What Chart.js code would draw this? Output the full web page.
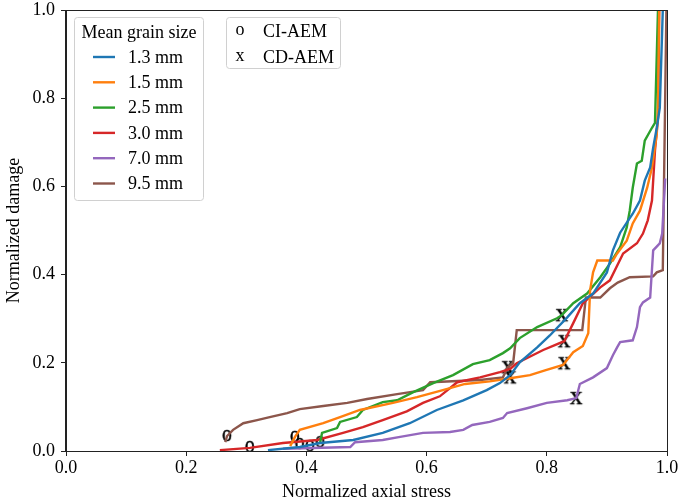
<!DOCTYPE html>
<html lang="en">
<head>
<meta charset="UTF-8">
<title>Normalized damage vs normalized axial stress</title>
<script src="https://cdn.jsdelivr.net/npm/chart.js"></script>
<style>
  html, body { margin: 0; padding: 0; background: #fff; }
  #wrap { position: relative; width: 685px; height: 503px; }
</style>
</head>
<body>
<div id="wrap"><canvas id="damageChart" width="685" height="503"></canvas></div>
<script>
const grainSizes = ['1.3 mm', '1.5 mm', '2.5 mm', '3.0 mm', '7.0 mm', '9.5 mm'];
const lineColors = ['#1f77b4', '#ff7f0e', '#2ca02c', '#d62728', '#9467bd', '#8c564b'];
const axisTicks = [0, 0.2, 0.4, 0.6, 0.8, 1.0];

// 1.3 mm
const stress13 = [0.336, 0.389, 0.423, 0.478, 0.527, 0.572, 0.617, 0.661, 0.700, 0.722, 0.739, 0.755, 0.784, 0.805, 0.834, 0.855, 0.877, 0.900, 0.910, 0.922, 0.943, 0.955, 0.963, 0.972, 0.977, 0.983, 0.988, 0.993];
const damage13 = [0.002, 0.009, 0.018, 0.025, 0.041, 0.063, 0.093, 0.115, 0.138, 0.154, 0.172, 0.201, 0.235, 0.262, 0.303, 0.335, 0.357, 0.405, 0.455, 0.495, 0.538, 0.568, 0.613, 0.643, 0.688, 0.733, 0.778, 1.0];
// 1.5 mm
const stress15 = [0.373, 0.381, 0.389, 0.428, 0.456, 0.489, 0.544, 0.584, 0.627, 0.664, 0.705, 0.739, 0.772, 0.797, 0.827, 0.844, 0.860, 0.869, 0.872, 0.877, 0.884, 0.910, 0.917, 0.933, 0.943, 0.955, 0.967, 0.975, 0.983, 0.985, 0.987];
const damage15 = [0.011, 0.032, 0.048, 0.063, 0.077, 0.093, 0.109, 0.122, 0.138, 0.152, 0.158, 0.165, 0.172, 0.183, 0.195, 0.224, 0.238, 0.267, 0.364, 0.405, 0.432, 0.432, 0.448, 0.477, 0.516, 0.545, 0.597, 0.643, 0.719, 0.778, 1.0];
// 2.5 mm
const stress25 = [0.423, 0.426, 0.451, 0.456, 0.484, 0.494, 0.527, 0.551, 0.577, 0.611, 0.644, 0.677, 0.705, 0.727, 0.739, 0.755, 0.784, 0.817, 0.825, 0.844, 0.867, 0.889, 0.905, 0.922, 0.933, 0.938, 0.943, 0.950, 0.958, 0.963, 0.975, 0.980, 0.985];
const damage25 = [0.020, 0.041, 0.052, 0.066, 0.077, 0.093, 0.111, 0.115, 0.133, 0.154, 0.172, 0.197, 0.206, 0.222, 0.233, 0.256, 0.281, 0.301, 0.308, 0.335, 0.357, 0.394, 0.425, 0.462, 0.507, 0.545, 0.597, 0.652, 0.658, 0.704, 0.733, 0.744, 1.0];
// 3.0 mm
const stress30 = [0.256, 0.306, 0.361, 0.418, 0.461, 0.494, 0.527, 0.567, 0.594, 0.622, 0.651, 0.689, 0.722, 0.739, 0.750, 0.794, 0.829, 0.844, 0.860, 0.889, 0.905, 0.927, 0.950, 0.960, 0.968, 0.975, 0.980, 0.985, 0.987];
const damage30 = [0.002, 0.007, 0.018, 0.025, 0.041, 0.054, 0.070, 0.090, 0.109, 0.124, 0.156, 0.167, 0.179, 0.186, 0.199, 0.229, 0.249, 0.290, 0.335, 0.371, 0.387, 0.448, 0.471, 0.493, 0.523, 0.568, 0.681, 0.756, 1.0];
// 7.0 mm
const stress70 = [0.361, 0.473, 0.481, 0.527, 0.556, 0.594, 0.639, 0.661, 0.676, 0.705, 0.727, 0.734, 0.767, 0.800, 0.834, 0.849, 0.855, 0.877, 0.900, 0.910, 0.917, 0.922, 0.943, 0.950, 0.955, 0.960, 0.972, 0.977, 0.988, 0.992, 0.997];
const damage70 = [0.005, 0.009, 0.020, 0.025, 0.032, 0.041, 0.043, 0.048, 0.059, 0.066, 0.075, 0.086, 0.097, 0.109, 0.115, 0.120, 0.152, 0.167, 0.188, 0.217, 0.235, 0.247, 0.251, 0.281, 0.326, 0.337, 0.348, 0.455, 0.471, 0.493, 0.618];
// 9.5 mm
const stress95 = [0.265, 0.268, 0.278, 0.295, 0.318, 0.339, 0.368, 0.389, 0.428, 0.468, 0.501, 0.551, 0.594, 0.606, 0.689, 0.727, 0.735, 0.744, 0.750, 0.859, 0.865, 0.889, 0.905, 0.918, 0.938, 0.977, 0.983, 0.993, 0.999];
const damage95 = [0.020, 0.034, 0.048, 0.063, 0.070, 0.077, 0.086, 0.095, 0.102, 0.109, 0.118, 0.129, 0.138, 0.156, 0.161, 0.167, 0.190, 0.199, 0.274, 0.274, 0.348, 0.348, 0.369, 0.382, 0.394, 0.396, 0.405, 0.410, 1.0];

// CI-AEM and CD-AEM points
const ciStress = [0.268, 0.306, 0.381, 0.389, 0.406, 0.423];
const ciDamage = [0.034, 0.009, 0.032, 0.016, 0.011, 0.020];
const cdStress = [0.825, 0.829, 0.829, 0.735, 0.739, 0.849];
const cdDamage = [0.308, 0.249, 0.199, 0.190, 0.167, 0.120];

const serif = '"Liberation Serif", "Times New Roman", serif';
const stressSeries = [stress13, stress15, stress25, stress30, stress70, stress95];
const damageSeries = [damage13, damage15, damage25, damage30, damage70, damage95];

function toPoints(xs, ys) {
  return xs.map((x, i) => ({ x: x, y: ys[i] }));
}

// glyph markers, like matplotlib text markers
function glyphMarker(ch, size, sx) {
  const c = document.createElement('canvas');
  c.width = 26; c.height = 26;
  const g = c.getContext('2d');
  g.font = size + 'px ' + serif;
  g.textAlign = 'center';
  g.textBaseline = 'alphabetic';
  g.fillStyle = '#000';
  g.strokeStyle = '#000';
  g.lineWidth = 0.5;
  g.translate(13, 13 + size * 0.23);
  g.scale(sx, 1);
  g.fillText(ch, 0, 0);
  g.strokeText(ch, 0, 0);
  return c;
}
const oMarker = glyphMarker('o', 23, 0.85);
const xMarker = glyphMarker('x', 25, 1.0);

const datasets = grainSizes.map((name, i) => ({
  label: name,
  data: toPoints(stressSeries[i], damageSeries[i]),
  borderColor: lineColors[i],
  backgroundColor: lineColors[i],
  borderWidth: 2.4,
  pointRadius: 0,
  showLine: true,
  tension: 0
}));
datasets.push({
  label: 'CI-AEM',
  data: toPoints(ciStress, ciDamage),
  pointStyle: oMarker,
  pointRadius: 9,
  showLine: false
});
datasets.push({
  label: 'CD-AEM',
  data: toPoints(cdStress, cdDamage),
  pointStyle: xMarker,
  pointRadius: 9,
  showLine: false
});

function roundBox(ctx, x, y, w, h, r) {
  ctx.beginPath();
  ctx.moveTo(x + r, y);
  ctx.arcTo(x + w, y, x + w, y + h, r);
  ctx.arcTo(x + w, y + h, x, y + h, r);
  ctx.arcTo(x, y + h, x, y, r);
  ctx.arcTo(x, y, x + w, y, r);
  ctx.closePath();
  ctx.fillStyle = 'rgba(255,255,255,0.8)';
  ctx.fill();
  ctx.strokeStyle = '#d0d0d0';
  ctx.lineWidth = 1;
  ctx.stroke();
}

const framePlugin = {
  id: 'frame',
  afterDatasetsDraw(chart) {
    const a = chart.chartArea, ctx = chart.ctx;
    ctx.save();
    ctx.strokeStyle = '#222';
    ctx.lineWidth = 1;
    ctx.strokeRect(Math.round(a.left) - 0.5, Math.round(a.top) + 0.5, Math.round(a.right - a.left) + 1, Math.round(a.bottom - a.top));
    ctx.restore();
  },
  afterDraw(chart) {
    const ctx = chart.ctx;
    ctx.save();
    // grain size legend
    roundBox(ctx, 74.5, 17.5, 129, 183, 3);
    ctx.fillStyle = '#000';
    ctx.font = '18px ' + serif;
    ctx.textBaseline = 'middle';
    ctx.textAlign = 'center';
    ctx.fillText('Mean grain size', 139, 33);
    ctx.textAlign = 'left';
    grainSizes.forEach((name, i) => {
      const y = 57 + i * 25.3;
      ctx.strokeStyle = lineColors[i];
      ctx.lineWidth = 2.4;
      ctx.beginPath();
      ctx.moveTo(93, y);
      ctx.lineTo(115, y);
      ctx.stroke();
      ctx.fillStyle = '#000';
      ctx.fillText(name, 128, y + 1);
    });
    // AEM legend
    roundBox(ctx, 226.5, 17.5, 114, 51, 3);
    ctx.fillStyle = '#000';
    ctx.textAlign = 'center';
    ctx.fillText('o', 240, 30);
    ctx.fillText('x', 240, 56);
    ctx.textAlign = 'left';
    ctx.fillText('CI-AEM', 263, 32);
    ctx.fillText('CD-AEM', 263, 58);
    ctx.restore();
  }
};

const tickFont = { family: serif, size: 18 };

new Chart(document.getElementById('damageChart'), {
  type: 'scatter',
  data: { datasets: datasets },
  options: {
    responsive: false,
    devicePixelRatio: 1,
    animation: false,
    layout: { padding: { top: 9, right: 18, left: 0, bottom: 0 } },
    plugins: { legend: { display: false }, tooltip: { enabled: false } },
    scales: {
      x: {
        type: 'linear', min: 0, max: 1,
        afterBuildTicks: s => { s.ticks = axisTicks.map(v => ({ value: v })); },
        afterFit: s => { s.height = 52; s.paddingLeft = 0; s.paddingRight = 0; },
        ticks: { color: '#000', font: tickFont, padding: 1, maxRotation: 0, callback: v => v.toFixed(1) },
        grid: { drawOnChartArea: false, drawTicks: true, tickLength: 5, color: '#222' },
        border: { display: true, color: '#222', width: 1 },
        title: { display: true, text: 'Normalized axial stress', color: '#000', font: tickFont, padding: { top: 0, bottom: 0 } }
      },
      y: {
        type: 'linear', min: 0, max: 1,
        afterBuildTicks: s => { s.ticks = axisTicks.map(v => ({ value: v })); },
        afterFit: s => { s.width = 66; s.paddingTop = 0; s.paddingBottom = 0; },
        ticks: { color: '#000', font: tickFont, padding: 6, callback: v => v.toFixed(1) },
        grid: { drawOnChartArea: false, drawTicks: true, tickLength: 5, color: '#222' },
        border: { display: true, color: '#222', width: 1 },
        title: { display: true, text: 'Normalized damage', color: '#000', font: tickFont, padding: { top: 3, bottom: 2 } }
      }
    }
  },
  plugins: [framePlugin]
});
</script>
</body>
</html>
